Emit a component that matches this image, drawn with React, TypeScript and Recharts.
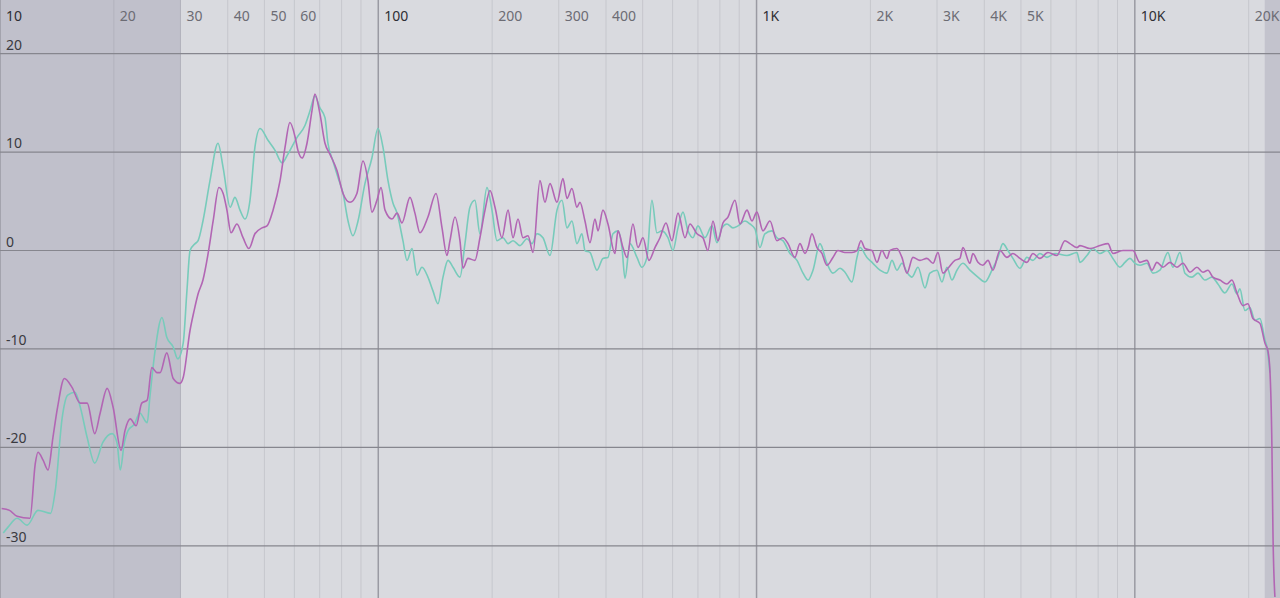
import { ComposedChart, Line, XAxis, YAxis, ReferenceLine, ReferenceArea } from 'recharts'

// pink / purple trace, [Hz, dB]
const pinkTrace: [number, number][] = [
  [10.1, -26.2], [10.6, -26.4], [11.1, -27.0], [12.0, -27.2], [12.4, -21.6], [12.6, -20.5], [13.0, -21.3], [13.4, -22.3],
  [13.8, -19.0], [14.2, -15.9], [14.8, -13.0], [15.5, -13.9], [16.3, -15.5], [17.0, -15.5], [17.8, -18.6], [18.4, -16.5],
  [19.2, -14.0], [19.9, -15.9], [20.9, -20.3], [21.4, -18.3], [22.1, -17.1], [22.9, -17.8], [23.7, -15.5], [24.5, -15.2],
  [25.2, -11.9], [26.0, -12.4], [26.5, -12.4], [27.6, -10.4], [28.7, -13.0], [29.9, -13.5], [30.5, -12.9], [31.8, -8.1],
  [32.6, -6.1], [33.4, -4.4], [34.4, -3.0], [35.5, -0.3], [36.6, 3.0], [37.9, 6.4], [38.9, 5.8], [39.8, 4.1],
  [40.8, 1.8], [42.3, 2.7], [43.9, 1.3], [45.5, 0.2], [47.2, 1.7], [49.3, 2.3], [50.8, 2.5], [52.7, 4.1],
  [55.0, 7.1], [56.7, 10.5], [58.4, 13.0], [60.3, 11.5], [61.3, 10.2], [62.9, 9.4], [64.8, 10.9], [66.8, 14.2],
  [68.0, 15.9], [70.1, 13.9], [72.3, 10.9], [74.5, 9.8], [77.8, 8.1], [80.7, 5.8], [84.2, 4.9], [87.8, 5.8],
  [91.1, 9.1], [93.9, 7.1], [96.2, 3.9], [99.2, 5.1], [101.7, 6.4], [104.2, 4.1], [108.7, 3.2], [112.1, 3.8],
  [115.5, 2.8], [121.3, 5.4], [125, 3.8], [128.9, 1.8], [135.3, 3.4], [142.1, 5.8], [147.4, 2.3], [151.9, -0.5],
  [154.7, 1.0], [159.5, 3.4], [164.4, 1.0], [167.5, -1.8], [172.6, -0.8], [180.1, -1.0], [185.7, 1.3], [191.5, 4.1],
  [197.4, 6.1], [203.5, 4.4], [212.3, 1.3], [220.3, 4.1], [227.1, 1.3], [234.1, 3.2], [241.3, 1.3], [248.8, 1.5],
  [256.5, -0.2], [267.6, 7.1], [275.8, 4.9], [284.4, 6.8], [296.8, 4.9], [307.8, 7.3], [315.4, 5.3], [325.1, 6.3],
  [335.1, 4.4], [341.3, 4.9], [351.9, 3.0], [362.8, 0.8], [374, 3.2], [381, 2.0], [392.6, 4.1], [404.8, 2.7],
  [422.4, -0.3], [430.2, 2.0], [443.5, 0.3], [454.4, -0.7], [471.3, 2.7], [485.9, 0.3], [500.9, 1.3], [519.5, -1.0],
  [538.8, 0.3], [555.5, 1.3], [576.2, 2.8], [597.6, 1.0], [619.9, 3.8], [646.9, 1.3], [666.8, 2.7], [695.8, 1.7],
  [721.6, 1.3], [743.9, 0.0], [767, 3.0], [790.7, 1.0], [815.1, 2.8], [840.3, 3.4], [877, 5.1], [904.1, 2.7],
  [943.5, 4.1], [972.4, 3.0], [1002, 3.9], [1040, 2.0], [1085, 3.0], [1132, 1.0], [1174, 1.3], [1211, 0.7],
  [1263, -0.7], [1302, 0.7], [1343, -0.3], [1368, 0.3], [1401, 1.7], [1445, 0.3], [1489, -0.3], [1535, -1.5],
  [1592, -0.7], [1641, 0.0], [1713, -0.2], [1787, -0.2], [1843, 0.0], [1888, 1.0], [1935, 0.2], [2019, 0.0],
  [2081, -1.2], [2145, 0.0], [2212, -0.8], [2252, 0.0], [2350, 0.2], [2423, -0.7], [2498, -2.3], [2591, -0.7],
  [2704, -1.0], [2821, -0.8], [2927, -1.3], [3017, -0.2], [3110, -2.3], [3206, -1.8], [3345, -1.0], [3448, -0.8],
  [3512, 0.3], [3665, -1.3], [3732, -0.3], [3848, -1.2], [3967, -1.5], [4090, -1.0], [4216, -2.0], [4400, 0.0],
  [4591, -0.7], [4762, -0.3], [4969, -0.8], [5185, -1.2], [5378, -0.3], [5612, -0.8], [5892, -0.2], [6225, -0.5],
  [6535, 1.0], [6737, 0.7], [7031, 0.3], [7161, 0.5], [7608, 0.2], [8087, 0.5], [8490, 0.7], [8752, -0.3],
  [9303, 0.0], [9886, 0.0], [10316, -1.2], [10765, -1.0], [11098, -2.0], [11441, -1.2], [11866, -1.7], [12383, -1.2],
  [12922, -1.7], [13404, -1.3], [13987, -2.2], [14594, -1.7], [15136, -2.2], [15605, -2.0], [16086, -2.7], [16786, -3.0],
  [17516, -3.4], [18058, -3.0], [18616, -4.3], [19308, -5.6], [19907, -5.4], [20523, -6.9], [21417, -7.4], [22079, -9.4],
  [22483, -10.2], [22760, -12.2], [23040, -20.0], [23180, -28.4], [23463, -35.2],
]

// teal trace, [Hz, dB]
const tealTrace: [number, number][] = [
  [10.2, -28.7], [10.5, -28.1], [11.1, -27.2], [11.8, -27.9], [12.6, -26.4], [13.6, -26.7], [14.0, -24.4], [14.6, -17.0],
  [15.1, -14.7], [15.8, -14.4], [16.3, -15.9], [17.0, -19.0], [17.8, -21.6], [18.7, -19.5], [19.8, -18.6], [20.4, -19.6],
  [20.8, -22.3], [21.3, -19.6], [21.8, -18.3], [22.7, -17.6], [23.4, -16.5], [24.5, -17.5], [24.9, -14.9], [25.7, -10.2],
  [26.8, -6.8], [27.6, -8.8], [28.7, -9.8], [29.5, -11.0], [30.5, -9.4], [31.2, -4.1], [31.8, 0.0], [32.8, 0.7],
  [33.4, 1.0], [34.4, 3.0], [35.9, 7.1], [37.7, 10.9], [38.9, 8.4], [40.6, 4.4], [41.8, 5.4], [43.1, 4.1],
  [44.4, 3.2], [45.8, 5.1], [47.2, 10.5], [48.7, 12.4], [51.1, 11.2], [53.3, 10.2], [55.7, 8.9], [57.7, 9.8],
  [61.0, 11.5], [64.0, 12.7], [66.0, 14.2], [68.0, 15.7], [70.1, 14.5], [72.3, 13.5], [73.6, 10.9], [75.9, 9.1],
  [78.3, 7.4], [80.7, 5.8], [83.2, 3.0], [85.7, 1.5], [88.4, 3.0], [92.2, 6.8], [96.2, 9.4], [99.8, 12.4],
  [102.9, 10.5], [106.1, 7.1], [109.4, 4.8], [112.1, 3.8], [116.2, 1.0], [119.1, -1.0], [122.8, 0.2], [126.6, -2.5],
  [130.5, -1.7], [135.3, -2.7], [139.5, -4.1], [143.8, -5.4], [148.3, -2.7], [152.9, -1.0], [157.6, -1.7], [164.4, -2.7],
  [169.5, 0.7], [174.7, 4.4], [180.1, 5.1], [185.7, 1.7], [193.8, 6.4], [199.8, 4.1], [206, 1.0], [213.6, 1.3],
  [220.3, 0.7], [227.1, 1.0], [236.9, 0.5], [247.2, 1.2], [254.9, 0.7], [262.8, 1.7], [272.5, 1.3], [284.4, -0.5],
  [296.8, 4.1], [306, 5.1], [315.4, 2.3], [325.1, 3.0], [335.1, 0.7], [345.5, 1.7], [351.9, 0.0], [362.8, -0.2],
  [378.6, -2.0], [392.6, -0.8], [404.8, -0.7], [417.3, 1.7], [430.2, 2.0], [440.8, 0.3], [448.9, -2.8], [462.8, 0.7],
  [482.9, -0.7], [497.7, -1.7], [513.1, -0.7], [528.9, 5.1], [545.3, 1.8], [562.2, 2.0], [583.2, 1.3], [601.2, 0.0],
  [619.9, 2.3], [639.1, 3.9], [658.8, 2.0], [679.1, 1.3], [700, 2.5], [730.5, 1.3], [762.3, 2.5], [785.9, 0.8],
  [810.2, 2.3], [835.2, 2.7], [866.1, 2.3], [893.1, 2.5], [931.7, 3.0], [960.7, 2.7], [990.4, 2.2], [1021, 0.3],
  [1052, 1.7], [1098, 2.0], [1132, 1.3], [1174, 1.0], [1226, -0.3], [1279, -1.0], [1327, -2.3], [1368, -3.0],
  [1410, -2.0], [1471, 0.7], [1535, -1.3], [1592, -2.3], [1662, -1.8], [1713, -2.2], [1787, -3.2], [1843, -0.7],
  [1877, 0.3], [1958, -0.7], [2031, -1.3], [2120, -2.0], [2212, -2.3], [2280, -1.0], [2350, -2.0], [2423, -1.3],
  [2498, -2.2], [2575, -2.7], [2672, -1.7], [2788, -3.8], [2873, -2.3], [2999, -2.0], [3091, -3.2], [3187, -1.7],
  [3285, -3.0], [3386, -2.0], [3512, -1.3], [3665, -2.0], [3848, -2.7], [4016, -3.2], [4191, -2.0], [4346, -0.7],
  [4481, 0.7], [4619, 0.0], [4762, -0.8], [4969, -1.8], [5185, -0.7], [5378, -1.0], [5612, -0.3], [5856, -0.7],
  [6150, -0.3], [6615, -0.5], [7031, -0.2], [7161, -1.2], [7472, -0.5], [7749, 0.2], [8087, -0.3], [8439, 0.0],
  [8752, -0.8], [9133, -1.7], [9417, -1.2], [9707, -0.8], [10007, -1.3], [10316, -1.5], [10765, -1.3], [11168, -2.3],
  [11652, -2.0], [12232, -0.2], [12611, -1.7], [13159, -0.2], [13566, -2.3], [14157, -2.7], [14684, -2.3], [15323, -3.0],
  [15989, -2.7], [16583, -3.4], [17304, -4.3], [18058, -3.4], [18616, -4.4], [18959, -3.9], [19544, -6.1], [20147, -5.8],
  [20773, -7.1], [21417, -6.9], [22079, -9.1], [22350, -9.8], [22760, -12.4],
]

const DB_LINES = [20, 10, 0, -10, -20, -30]
const DECADES = [10, 100, 1000, 10000]
const MINOR_HZ = [
  20, 30, 40, 50, 60, 70, 80, 90,
  200, 300, 400, 500, 600, 700, 800, 900,
  2000, 3000, 4000, 5000, 6000, 7000, 8000, 9000,
  20000,
]
const FREQ_LABELS: [number, string][] = [
  [10, '10'], [20, '20'], [30, '30'], [40, '40'], [50, '50'], [60, '60'],
  [100, '100'], [200, '200'], [300, '300'], [400, '400'],
  [1000, '1K'], [2000, '2K'], [3000, '3K'], [4000, '4K'], [5000, '5K'],
  [10000, '10K'], [20000, '20K'],
]
const LOW_CUT: [number, number] = [10, 30]
const HIGH_CUT: [number, number] = [22050, 24200]

const W = 1280
const H = 598
const FONT = '"Noto Sans", "DejaVu Sans", sans-serif'

const pinkData = pinkTrace.map(([hz, db]) => ({ hz, db }))
const tealData = tealTrace.map(([hz, db]) => ({ hz, db }))

function freqLabel(text: string, dark: boolean) {
  return (props: any) => {
    const vb = props.viewBox || {}
    return (
      <text x={(vb.x ?? 0) + 6} y={21} fontSize={14} fontFamily={FONT} fill={dark ? '#2e2e34' : '#6c6c74'}>
        {text}
      </text>
    )
  }
}

function dbLabel(text: string) {
  return (props: any) => {
    const vb = props.viewBox || {}
    return (
      <text x={6} y={(vb.y ?? 0) - 4} fontSize={14} fontFamily={FONT} fill="#3a3a40">
        {text}
      </text>
    )
  }
}

export default function App() {
  const labelFor = (hz: number) => FREQ_LABELS.find(l => l[0] === hz)
  return (
    <div style={{ position: 'absolute', left: 0, top: 0, width: W, height: H, background: '#d9dadf', overflow: 'hidden' }}>
      <ComposedChart width={W} height={H} margin={{ top: 0, right: 0, bottom: 0, left: 0 }}>
        <XAxis dataKey="hz" type="number" scale="log" domain={[10, 24200]} allowDataOverflow hide />
        <YAxis type="number" domain={[-35.3, 25.45]} allowDataOverflow hide />

        <ReferenceArea x1={LOW_CUT[0]} x2={LOW_CUT[1]} fill="#c0c0cb" fillOpacity={1} stroke="none" />
        <ReferenceArea x1={HIGH_CUT[0]} x2={HIGH_CUT[1]} fill="#c3c3cd" fillOpacity={1} stroke="none" />

        {MINOR_HZ.map(hz => {
          const l = labelFor(hz)
          return (
            <ReferenceLine
              key={'m' + hz}
              x={hz}
              stroke={hz <= 30 ? '#b2b2bd' : '#c6c7cd'}
              strokeWidth={1}
              label={l ? freqLabel(l[1], false) : undefined}
            />
          )
        })}
        {DECADES.map(hz => {
          const l = labelFor(hz)
          return (
            <ReferenceLine
              key={'d' + hz}
              x={hz}
              stroke="#9a9aa3"
              strokeWidth={1.5}
              label={l ? freqLabel(l[1], true) : undefined}
            />
          )
        })}
        {DB_LINES.map(db => (
          <ReferenceLine key={'y' + db} y={db} stroke="#86868e" strokeWidth={1.2} label={dbLabel(String(db))} />
        ))}

        <Line
          data={tealData}
          dataKey="db"
          type="monotone"
          stroke="#78cbbb"
          strokeWidth={1.6}
          dot={false}
          activeDot={false}
          isAnimationActive={false}
        />
        <Line
          data={pinkData}
          dataKey="db"
          type="monotone"
          stroke="#b266b4"
          strokeWidth={1.6}
          dot={false}
          activeDot={false}
          isAnimationActive={false}
        />
      </ComposedChart>
    </div>
  )
}
